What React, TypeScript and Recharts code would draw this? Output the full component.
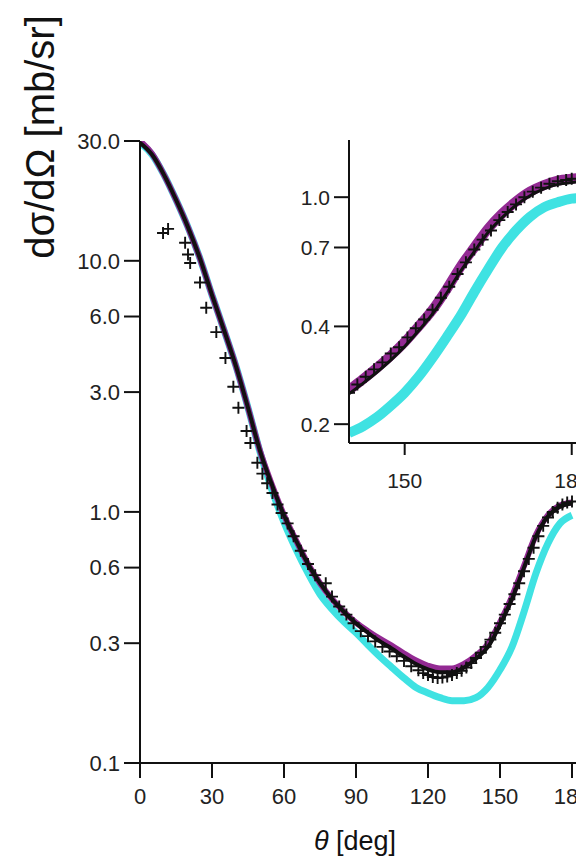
import { ComposedChart, Line, Scatter, XAxis, YAxis, Label } from 'recharts'

// main panel: theory curves, theta in deg, cross section in mb/sr
const mainTheta = [0, 5, 10, 15, 20, 25, 30, 35, 40, 45, 50, 55, 60, 65, 70, 75, 80, 85, 90, 95, 100, 105, 110, 115, 120, 125, 130, 135, 140, 145, 150, 155, 160, 165, 170, 175, 180]
const blackMain = [29.5, 26.5, 22, 17.5, 13.6, 10.2, 7.3, 5.3, 3.8, 2.6, 1.75, 1.28, 0.97, 0.77, 0.62, 0.52, 0.45, 0.4, 0.36, 0.33, 0.305, 0.285, 0.265, 0.248, 0.236, 0.23, 0.23, 0.24, 0.26, 0.29, 0.355, 0.45, 0.6, 0.8, 0.96, 1.05, 1.08]
const magentaMain = [30, 26.7, 22, 17.5, 13.6, 10.2, 7.3, 5.3, 3.8, 2.6, 1.75, 1.28, 0.97, 0.77, 0.62, 0.52, 0.45, 0.4, 0.362, 0.335, 0.312, 0.293, 0.273, 0.256, 0.244, 0.238, 0.238, 0.248, 0.268, 0.298, 0.363, 0.46, 0.61, 0.81, 0.97, 1.06, 1.09]
const cyanMain = [29.5, 26.5, 22, 17.5, 13.6, 10.2, 7.3, 5.3, 3.8, 2.6, 1.73, 1.22, 0.91, 0.71, 0.57, 0.47, 0.41, 0.365, 0.33, 0.295, 0.265, 0.24, 0.218, 0.2, 0.19, 0.182, 0.177, 0.177, 0.182, 0.2, 0.235, 0.29, 0.4, 0.57, 0.75, 0.9, 0.97]

// measured points (crosses)
const measTheta = [9.6, 11.7, 18.8, 20, 20.9, 25, 27.6, 31.8, 35.6, 38.9, 41, 44.4, 46, 48.9, 51, 53, 55.2, 57.3, 59, 61.5, 64, 67, 70, 73, 77.4, 80, 83, 86, 89, 92, 95, 98, 101, 104, 107, 110, 113, 116, 118, 120, 122, 124, 126, 128, 130, 132, 134, 136, 138, 140, 142, 144, 146, 148, 150, 152, 154, 156, 158, 160, 162, 164, 166, 168, 170, 172, 174, 176, 178, 180]
const measValue = [12.9, 13.4, 11.8, 10.6, 9.8, 8.2, 6.5, 5.2, 4.1, 3.15, 2.6, 2.1, 1.88, 1.57, 1.42, 1.3, 1.19, 1.07, 0.99, 0.9, 0.8, 0.7, 0.62, 0.56, 0.52, 0.46, 0.42, 0.39, 0.36, 0.335, 0.32, 0.305, 0.29, 0.278, 0.266, 0.255, 0.243, 0.234, 0.228, 0.224, 0.22, 0.218, 0.219, 0.221, 0.224, 0.228, 0.233, 0.24, 0.25, 0.262, 0.275, 0.29, 0.31, 0.33, 0.36, 0.39, 0.43, 0.47, 0.52, 0.58, 0.65, 0.72, 0.8, 0.88, 0.95, 1.0, 1.04, 1.07, 1.09, 1.1]

const mainXTicks = [0, 30, 60, 90, 120, 150, 180]
const mainYTicks = [0.1, 0.3, 0.6, 1, 3, 6, 10, 30]

// inset: backward angles
const insetTheta = [140, 142.5, 145, 147.5, 150, 152.5, 155, 157.5, 160, 162.5, 165, 167.5, 170, 172.5, 175, 177.5, 180, 184]
const magentaInset = [0.255, 0.275, 0.298, 0.325, 0.358, 0.4, 0.45, 0.52, 0.61, 0.7, 0.8, 0.89, 0.97, 1.04, 1.09, 1.125, 1.14, 1.15]
const blackInset = [0.248, 0.267, 0.289, 0.315, 0.347, 0.388, 0.437, 0.505, 0.59, 0.68, 0.78, 0.865, 0.945, 1.01, 1.06, 1.095, 1.11, 1.12]
const cyanInset = [0.188, 0.197, 0.21, 0.228, 0.25, 0.28, 0.32, 0.37, 0.43, 0.51, 0.6, 0.7, 0.79, 0.87, 0.93, 0.965, 0.99, 1.0]

const insetMeasTheta = [140, 141.5, 143, 144.5, 146, 147.5, 149, 150.5, 152, 153.5, 155, 156.5, 158, 159.5, 161, 162.5, 164, 165.5, 167, 168.5, 170, 171.5, 173, 174.5, 176, 177.5, 179, 180]
const insetMeasValue = [0.25, 0.265, 0.28, 0.295, 0.31, 0.33, 0.345, 0.37, 0.395, 0.42, 0.45, 0.49, 0.53, 0.58, 0.63, 0.69, 0.74, 0.79, 0.85, 0.9, 0.95, 1.0, 1.04, 1.07, 1.1, 1.12, 1.13, 1.14]

const insetXTicks = [150, 180]
const insetYTicks = [0.2, 0.4, 0.7, 1.0]

const MAGENTA = '#932a93'
const CYAN = '#3fe2e2'
const FONT = '"Liberation Sans", Arial, sans-serif'

const pts = (xs: number[], ys: number[]) => xs.map((t, i) => ({ theta: t, v: ys[i] }))

const Cross = (props: any) => {
  const { cx, cy } = props
  if (cx == null || cy == null) return null
  return (
    <path
      d={`M${cx - 6},${cy}H${cx + 6}M${cx},${cy - 6}V${cy + 6}`}
      stroke="#111"
      strokeWidth={1.9}
      fill="none"
    />
  )
}

const YTitle = ({ viewBox }: any) => {
  const x = viewBox.x + 54
  const y = viewBox.y - 4
  return (
    <text
      x={x}
      y={y}
      transform={`rotate(-90, ${x}, ${y})`}
      textAnchor="middle"
      fontSize={40}
      fontFamily={FONT}
      fill="#111"
    >
      dσ/dΩ [mb/sr]
    </text>
  )
}

const XTitle = ({ viewBox }: any) => (
  <text x={viewBox.x + 215} y={viewBox.y + 87} textAnchor="middle" fontSize={27} fontFamily={FONT} fill="#111">
    <tspan fontStyle="italic">θ</tspan> [deg]
  </text>
)

export default function App() {
  const tickStyle = { fontSize: 22, fontFamily: FONT, fill: '#222' }
  const insetTick = { fontSize: 21, fontFamily: FONT, fill: '#222' }

  return (
    <div style={{ position: 'absolute', left: 0, top: 0, width: 576, height: 859, overflow: 'hidden', background: '#fff' }}>
      <div style={{ position: 'absolute', left: 0, top: 0 }}>
        <ComposedChart width={640} height={859} margin={{ top: 141, right: 44, bottom: 0, left: 0 }}>
          <XAxis
            type="number"
            dataKey="theta"
            domain={[0, 190]}
            ticks={mainXTicks}
            allowDataOverflow
            height={96}
            tickSize={15}
            tickMargin={10}
            tick={tickStyle}
            stroke="#111"
            strokeWidth={2}
          >
            <Label content={XTitle} />
          </XAxis>
          <YAxis
            type="number"
            dataKey="v"
            scale="log"
            domain={[0.1, 30]}
            ticks={mainYTicks}
            allowDataOverflow
            width={140}
            tickSize={16}
            tickMargin={4}
            tick={tickStyle}
            tickFormatter={(v: number) => v.toFixed(1)}
            stroke="#111"
            strokeWidth={2}
          >
            <Label content={YTitle} />
          </YAxis>
          <Line data={pts(mainTheta, cyanMain)} dataKey="v" type="monotone" stroke={CYAN} strokeWidth={7} dot={false} isAnimationActive={false} />
          <Line data={pts(mainTheta, magentaMain)} dataKey="v" type="monotone" stroke={MAGENTA} strokeWidth={6} dot={false} isAnimationActive={false} />
          <Line data={pts(mainTheta, blackMain)} dataKey="v" type="monotone" stroke="#111" strokeWidth={4} dot={false} isAnimationActive={false} />
          <Scatter data={pts(measTheta, measValue)} dataKey="v" shape={Cross} isAnimationActive={false} />
        </ComposedChart>
      </div>

      {/* inset */}
      <div style={{ position: 'absolute', left: 280, top: 100 }}>
        <ComposedChart width={320} height={420} margin={{ top: 40, right: 6, bottom: 0, left: 0 }}>
          <XAxis
            type="number"
            dataKey="theta"
            domain={[140, 184]}
            ticks={insetXTicks}
            allowDataOverflow
            height={77}
            tickSize={12}
            tickMargin={18}
            tick={insetTick}
            stroke="#111"
            strokeWidth={2}
          />
          <YAxis
            type="number"
            dataKey="v"
            scale="log"
            domain={[0.175, 1.5]}
            ticks={insetYTicks}
            allowDataOverflow
            width={69}
            tickSize={15}
            tickMargin={4}
            tick={insetTick}
            tickFormatter={(v: number) => v.toFixed(1)}
            stroke="#111"
            strokeWidth={2}
          />
          <Line data={pts(insetTheta, cyanInset)} dataKey="v" type="monotone" stroke={CYAN} strokeWidth={10} dot={false} isAnimationActive={false} />
          <Line data={pts(insetTheta, magentaInset)} dataKey="v" type="monotone" stroke={MAGENTA} strokeWidth={10} dot={false} isAnimationActive={false} />
          <Line data={pts(insetTheta, blackInset)} dataKey="v" type="monotone" stroke="#111" strokeWidth={3} dot={false} isAnimationActive={false} />
          <Scatter data={pts(insetMeasTheta, insetMeasValue)} dataKey="v" shape={Cross} isAnimationActive={false} />
        </ComposedChart>
      </div>
    </div>
  )
}
